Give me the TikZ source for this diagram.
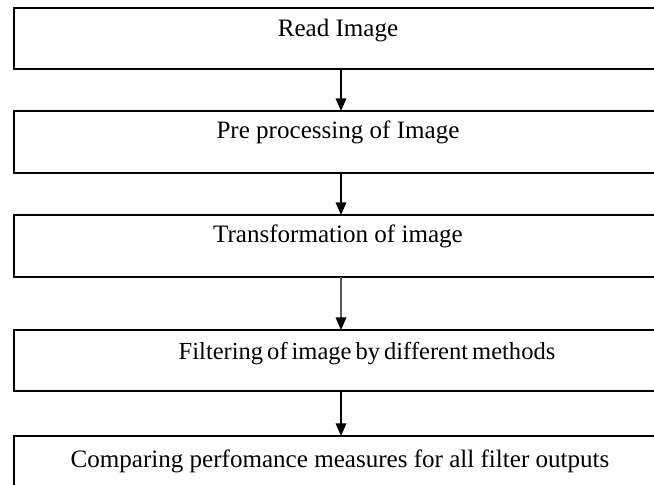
\documentclass[tikz,border=0pt]{standalone}
\usepackage{fontspec}
\setmainfont{Liberation Serif}
\usetikzlibrary{arrows.meta}
\begin{document}
\begin{tikzpicture}[x=0.75pt,y=-0.75pt,
  box/.style={draw, line width=1.1pt, rectangle, inner sep=0pt, outer sep=0pt,
    minimum width=490.5pt, anchor=north west},
  lbl/.style={anchor=base, inner sep=0pt, font=\fontsize{18.8}{22}\selectfont},
  flow/.style={line width=1.1pt, -{Triangle[length=9.5pt,width=8pt,color=black]}}]
\useasboundingbox (0,0) rectangle (654,485);
\node[box, minimum height=45.75pt] (b1) at (14,8) {};
\node[box, minimum height=46.5pt] (b2) at (14,111) {};
\node[box, minimum height=46.5pt] (b3) at (14,215) {};
\node[box, minimum height=45.75pt] (b4) at (14,330) {};
\node[box, minimum height=46.5pt] (b5) at (14,436) {};
\node[lbl] (t1) at (338,37) {Read Image};
\node[lbl] (t2) at (338,139) {Pre processing of Image};
\node[lbl] (t3) at (338,243) {Transformation of image};
\node[lbl, font=\fontsize{18.4}{22}\selectfont] (t4) at (367,359) {\spaceskip=3pt\relax Filtering of image by different methods};
\node[lbl] (t5) at (340,467) {Comparing perfomance measures for all filter outputs};
\draw[flow] (b1.south) -- (b2.north);
\draw[flow] (b2.south) -- (b3.north);
\draw[flow, draw=black!65] (b3.south) -- (b4.north);
\draw[flow] (b4.south) -- (b5.north);
\end{tikzpicture}
\end{document}
